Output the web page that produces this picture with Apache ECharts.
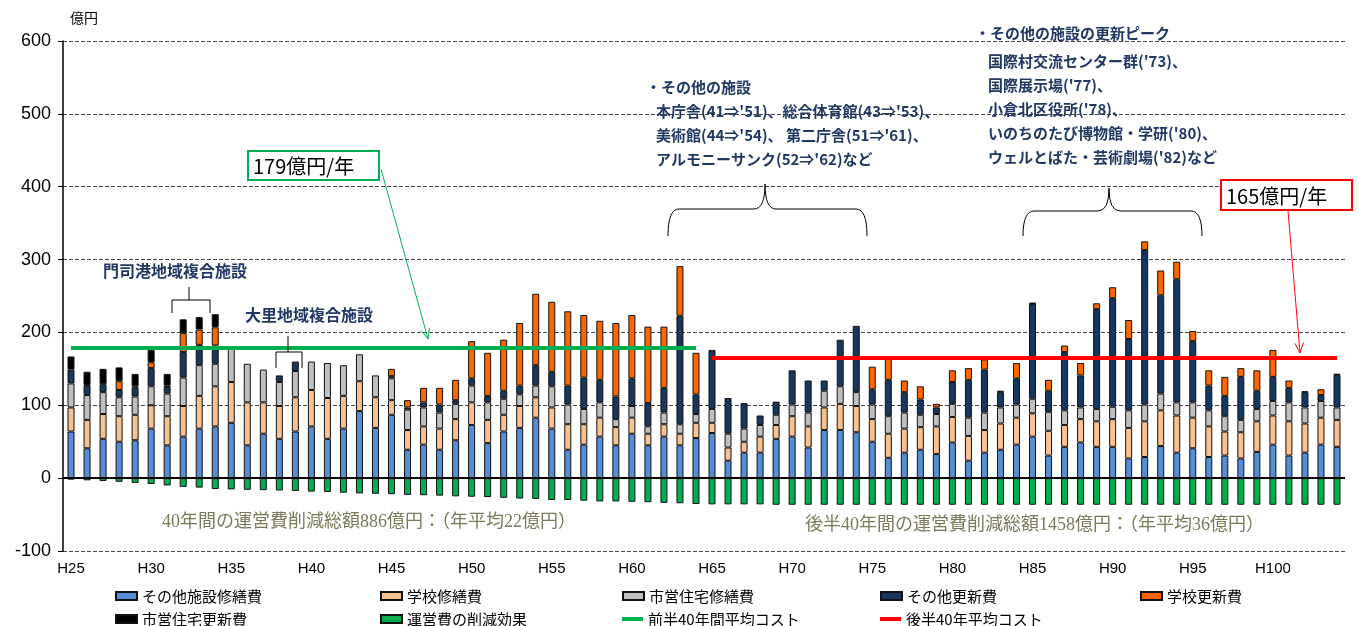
<!DOCTYPE html>
<html><head><meta charset="utf-8">
<script src="https://cdn.jsdelivr.net/npm/echarts@6/dist/echarts.min.js"></script>
<style>html,body{margin:0;padding:0;background:#fff}#c{width:1359px;height:626px}</style>
</head><body><div id="c"></div>
<script>
// Categories H25..H104
const categories = [];
for (let y = 25; y <= 104; y++) categories.push('H' + y);

const otherRepair = [64,41,54,50,52,68,45,57,68,71, 76,45,61,54,64,71,54,68,92,69, 87,39,46,39,52,73,48,64,69,83, 68,39,46,57,45,61,45,57,45,55,
  62,24,35,35,54,57,42,66,66,63, 50,28,35,39,33,49,24,35,39,46, 57,31,43,49,43,43,27,29,44,35, 41,29,31,27,36,46,31,35,46,43];
const schoolRepair = [33,39,34,35,35,32,40,42,45,55, 56,59,43,45,47,50,56,45,41,42, 20,27,25,29,29,31,32,23,30,28, 29,35,28,26,25,22,16,17,16,21,
  14,18,15,22,19,28,29,31,36,36, 31,33,33,31,38,35,34,31,36,37, 32,34,30,32,35,38,42,49,49,51, 42,42,33,36,42,40,47,40,37,37];
const housingRepair = [33,34,30,26,25,26,31,39,42,31, 46,53,45,33,36,39,48,42,37,30, 30,28,26,22,21,23,24,22,16,16, 29,27,21,21,11,16,10,16,13,12,
  19,19,18,16,14,16,19,23,24,19, 20,24,22,17,17,18,25,24,22,18, 20,26,20,16,17,17,24,23,23,18, 21,22,21,17,17,20,26,22,23,17];
const otherRenewal = [19,13,11,10,12,25,9,35,28,25, null,null,null,9,13,null,null,null,null,null, 3,3,7,11,5,10,9,11,12,28, 20,26,43,31,31,38,32,34,149,27,
  81,49,35,13,18,47,44,14,64,91, 21,50,28,21,9,30,52,59,21,36, 130,29,80,44,137,149,98,212,135,169, 84,34,28,59,25,33,20,21,8,45];
const schoolRenewal = [null,1,null,12,2,8,2,26,21,25, null,null,null,null,null,null,null,null,null,null, 10,10,20,23,28,51,59,70,86,98, 96,102,86,81,101,87,105,84,68,57,
  null,null,null,null,null,null,null,null,null,null, 31,32,16,18,5,16,16,14,null,21, null,15,9,17,8,15,26,12,34,24, 14,21,26,12,28,37,10,null,8,null];
const housingRenewal = [18,18,21,19,17,17,16,19,17,18, null,null,null,null,null,null,null,null,null,null, null,null,null,null,null,null,null,null,null,null, null,null,null,null,null,null,null,null,null,null,
  null,null,null,null,null,null,null,null,null,null, null,null,null,null,null,null,null,null,2,null, 2,null,null,null,null,null,null,null,null,null, null,null,null,null,null,null,null,1,null,1];
const opReduction = [-2,-3,-4,-5,-6.5,-8,-10,-12,-13,-15, -15.5,-16,-16.5,-17,-17.5,-18.5,-19,-20,-21,-21.5, -22,-23,-23.5,-24,-25,-25.5,-26,-27,-28,-28.5, -30,-30,-31,-32,-32,-32.5,-33,-34,-34.5,-35.5,
  -36,-36,-36,-36,-36.5,-36.5,-36.5,-36.5,-36.5,-36.5, -36.5,-36.5,-36.5,-36.5,-36.5,-36.5,-36.5,-36.5,-36.5,-36.5, -36.5,-36.5,-36.5,-36.5,-36.5,-36.5,-36.5,-36.5,-36.5,-36.5, -36.5,-36.5,-36.5,-36.5,-36.5,-36.5,-36.5,-36.5,-36.5,-36.5];

const firstHalfAvg = 179;
const secondHalfAvg = 165;
const yTicks = [-100, 600, 100]; // min, max, interval

const seriesNames = ['その他施設修繕費','学校修繕費','市営住宅修繕費','その他更新費','学校更新費','市営住宅更新費','運営費の削減効果','前半40年間平均コスト','後半40年平均コスト'];
const colors = ['#558ED5','#FAC090','#BFBFBF','#17375E','#FF6600','#000000','#00B050','#00B050','#FF0000'];

const chart = echarts.init(document.getElementById('c'));
const barStyle = (c) => ({ color: c, borderColor: '#111', borderWidth: 1 });
const mk = (i, data) => ({
  name: seriesNames[i], type: 'bar', stack: 'total', barWidth: 7, data: data,
  itemStyle: barStyle(colors[i])
});
const series = [
  Object.assign(mk(0, otherRepair), {
    markLine: { silent: true, symbol: 'none', label: { show: false },
      lineStyle: { color: '#000', width: 2, type: 'solid' }, data: [{ yAxis: 0 }], z: 5 }
  }),
  mk(1, schoolRepair), mk(2, housingRepair), mk(3, otherRenewal), mk(4, schoolRenewal), mk(5, housingRenewal), mk(6, opReduction),
  { name: seriesNames[7], type: 'line', data: [], itemStyle: { color: colors[7] }, lineStyle: { color: colors[7], width: 4 }, symbol: 'none', z: 10,
    markLine: { silent: true, symbol: 'none', label: { show: false }, lineStyle: { color: colors[7], width: 4, type: 'solid' },
      data: [[{ coord: [categories[0], firstHalfAvg] }, { coord: [categories[39], firstHalfAvg] }]] } },
  { name: seriesNames[8], type: 'line', data: [], itemStyle: { color: colors[8] }, lineStyle: { color: colors[8], width: 4 }, symbol: 'none', z: 10,
    markLine: { silent: true, symbol: 'none', label: { show: false }, lineStyle: { color: colors[8], width: 4, type: 'solid' },
      data: [[{ coord: [categories[40], secondHalfAvg] }, { coord: [categories[79], secondHalfAvg] }]] } }
];

const legendPos = [[115,596],[380,596],[622,596],[880,596],[1140,596],[115,619],[380,619],[622,619],[880,619]];
const legends = seriesNames.map((n, i) => ({
  data: [{ name: n, icon: 'rect', itemStyle: i >= 7 ? { color: colors[i], borderWidth: 0 } : undefined }],
  left: legendPos[i][0], top: legendPos[i][1] - 10,
  padding: 0,
  itemWidth: 21, itemHeight: i >= 7 ? 4 : 8, itemGap: 4,
  selectedMode: false,
  textStyle: { fontSize: 15, lineHeight: 20, color: '#000', fontFamily: "'Noto Sans CJK JP', sans-serif", padding: [0,0,0,0] }
}));

const navy = '#1F3864';
const cjk = "'Noto Sans CJK JP', sans-serif";
const txt = (s, x, y, size, color, extra) => ({ type: 'text', x: x, y: y, z: 100,
  style: Object.assign({ text: s, fontSize: size, fill: color, fontFamily: cjk, textVerticalAlign: 'middle', textAlign: 'left' }, extra || {}) });
const pline = (pts, stroke, w) => ({ type: 'polyline', z: 100, shape: { points: pts }, style: { fill: null, stroke: stroke, lineWidth: w || 1 } });
const qcurve = (x1, y1, cx, cy, x2, y2) => ({ type: 'bezierCurve', z: 100, shape: { x1: x1, y1: y1, cpx1: cx, cpy1: cy, x2: x2, y2: y2 }, style: { fill: null, stroke: '#000', lineWidth: 1 } });
function brace(xl, xm, xr, yTop, yMid, yBot) {
  const r = 11;
  return [
    qcurve(xl, yBot, xl, yMid, xl + r, yMid),
    pline([[xl + r, yMid], [xm - r, yMid]], '#000', 1),
    qcurve(xm - r, yMid, xm, yMid, xm, yTop),
    qcurve(xm, yTop, xm, yMid, xm + r, yMid),
    pline([[xm + r, yMid], [xr - r, yMid]], '#000', 1),
    qcurve(xr - r, yMid, xr, yMid, xr, yBot)
  ];
}
function arrow(x1, y1, x2, y2, color) {
  const a = Math.atan2(y2 - y1, x2 - x1), L = 11, s = 0.4;
  const p1 = [x2 - L * Math.cos(a - s), y2 - L * Math.sin(a - s)];
  const p2 = [x2 - L * Math.cos(a + s), y2 - L * Math.sin(a + s)];
  return [pline([[x1, y1], [x2, y2]], color, 1), pline([p1, [x2, y2], p2], color, 1)];
}

const bold = { fontWeight: 'bold' };
const boxFont = { fontFamily: cjk };
const serif = { fontFamily: "'Liberation Serif','Noto Sans CJK JP',serif" };
const graphics = [
  txt('億円', 70, 18, 14, '#000'),
  txt('門司港地域複合施設', 103, 271, 16, navy, bold),
  pline([[172, 313], [172, 300], [210, 300], [210, 313]], '#000', 1),
  pline([[189, 300], [189, 287]], '#000', 1),
  txt('大里地域複合施設', 245, 315, 16, navy, bold),
  pline([[276, 368], [276, 352], [302, 352], [302, 368]], '#000', 1),
  pline([[288, 352], [288, 336]], '#000', 1),
  { type: 'rect', z: 100, shape: { x: 248, y: 151, width: 131, height: 29 }, style: { fill: '#fff', stroke: '#00B050', lineWidth: 2 } },
  txt('179億円/年', 253, 166, 20, '#000', boxFont),
  ...arrow(381, 169, 428, 339, '#00B050'),
  { type: 'rect', z: 100, shape: { x: 1221, y: 180, width: 131, height: 30 }, style: { fill: '#fff', stroke: '#FF0000', lineWidth: 2 } },
  txt('165億円/年', 1226, 196, 20, '#000', boxFont),
  ...arrow(1288, 211, 1300, 353, '#FF0000'),
  txt('・その他の施設', 646, 87, 15, navy, bold),
  txt("本庁舎(41⇒'51)、総合体育館(43⇒'53)、", 656, 111, 15, navy, bold),
  txt("美術館(44⇒'54)、 第二庁舎(51⇒'61)、", 656, 135, 15, navy, bold),
  txt("アルモニーサンク(52⇒'62)など", 656, 159, 15, navy, bold),
  txt('・その他の施設の更新ピーク', 975, 33, 15, navy, bold),
  txt("国際村交流センター群('73)、", 988, 61, 15, navy, bold),
  txt("国際展示場('77)、", 988, 85, 15, navy, bold),
  txt("小倉北区役所('78)、", 988, 109, 15, navy, bold),
  txt("いのちのたび博物館・学研('80)、", 988, 133, 15, navy, bold),
  txt("ウェルとばた・芸術劇場('82)など", 988, 157, 15, navy, bold),
  ...brace(668, 765, 867, 184, 209, 236),
  ...brace(1023, 1109, 1202, 188, 211, 236),
  txt('40年間の運営費削減総額886億円：（年平均22億円）', 162, 522, 18, '#7A7A58', serif),
  txt('後半40年間の運営費削減総額1458億円：（年平均36億円）', 805, 525, 18, '#7A7A58', serif)
];

chart.setOption({
  animation: false,
  textStyle: { fontFamily: "'Liberation Sans Narrow','Liberation Sans','Noto Sans CJK JP',sans-serif" },
  grid: { left: 63, right: 14, top: 41, bottom: 75 },
  legend: legends,
  xAxis: {
    type: 'category', data: categories, boundaryGap: true,
    axisLine: { show: false }, axisTick: { show: false },
    axisLabel: { interval: 4, fontSize: 15, color: '#000', margin: 10 },
    splitLine: { show: false }
  },
  yAxis: {
    type: 'value', min: yTicks[0], max: yTicks[1], interval: yTicks[2],
    axisLine: { show: true, lineStyle: { color: '#000', width: 1.5 } },
    axisTick: { show: true, length: 5, lineStyle: { color: '#000' } },
    axisLabel: { fontSize: 18, color: '#000', margin: 12 },
    splitLine: { show: true, lineStyle: { color: '#444', type: [4, 2], width: 1 } }
  },
  series: series,
  graphic: graphics
});
</script></body></html>
